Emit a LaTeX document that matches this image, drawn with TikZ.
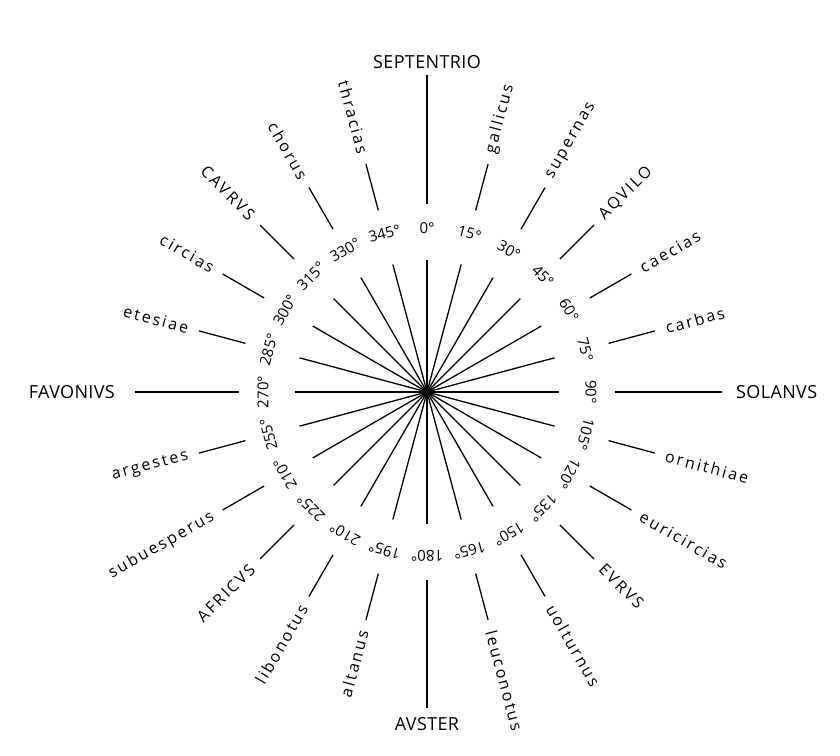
\documentclass[tikz,border=0pt]{standalone}
\usepackage{fontspec}
\newfontfamily\degfont{Open Sans}
\newfontfamily\windfont[LetterSpace=14]{Open Sans}
\newfontfamily\mainwindfont[LetterSpace=2]{Open Sans}

\tikzset{
  spoke/.style={line width=1.3pt},
  deglabel/.style={font=\degfont\fontsize{15}{15}\selectfont, inner sep=0pt},
  windname/.style={font=\windfont\fontsize{16}{16}\selectfont, inner sep=0pt},
  mainwind/.style={font=\mainwindfont\fontsize{18}{18}\selectfont, inner sep=0pt}
}

\begin{document}
\begin{tikzpicture}[x=1pt,y=1pt]
\useasboundingbox (0,0) rectangle (840,755);
\coordinate (O) at (427,363);
% star of inner spokes
\foreach \c in {0,15,...,345}
  \draw[spoke] (O) -- ([shift={(90-\c:132)}]O);
\fill (O) circle (3.5);
% degree marks
\foreach \c/\t in {0/0,15/15,30/30,45/45,60/60,75/75,90/90,105/105,120/120,
  135/135,150/150,165/165,180/180,195/195,210/210,225/225,240/210,255/255,
  270/270,285/285,300/300,315/315,330/330,345/345}
  \node[deglabel, rotate=-\c] (d\c) at ([shift={(90-\c:164)}]O) {\t°};
% east side winds
\foreach \c/\n in {15/gallicus,30/supernas,45/AQVILO,60/caecias,75/carbas,
  105/ornithiae,120/euricircias,135/EVRVS,150/uolturnus,165/leuconotus}{
  \coordinate (a\c) at ([shift={(90-\c:188)}]O);
  \coordinate (b\c) at ([shift={(90-\c:236)}]O);
  \draw[spoke] (a\c) -- (b\c);
  \node[windname, anchor=west, rotate=90-\c] (w\c) at ([shift={(90-\c:247)}]O) {\n};
}
% west side winds
\foreach \c/\n in {195/altanus,210/libonotus,225/AFRICVS,240/subuesperus,
  255/argestes,285/etesiae,300/circias,315/CAVRVS,330/chorus,345/thracias}{
  \coordinate (a\c) at ([shift={(90-\c:188)}]O);
  \coordinate (b\c) at ([shift={(90-\c:236)}]O);
  \draw[spoke] (a\c) -- (b\c);
  \node[windname, anchor=east, rotate=270-\c] (w\c) at ([shift={(90-\c:247)}]O) {\n};
}
% the four cardinal winds
\coordinate (aN) at ([shift={(90:188)}]O);
\coordinate (bN) at ([shift={(90:317)}]O);
\coordinate (aS) at ([shift={(-90:188)}]O);
\coordinate (bS) at ([shift={(-90:316)}]O);
\coordinate (aE) at ([shift={(0:188)}]O);
\coordinate (bE) at ([shift={(0:295)}]O);
\coordinate (aW) at ([shift={(180:188)}]O);
\coordinate (bW) at ([shift={(180:292)}]O);
\draw[spoke] (aN) -- (bN);
\draw[spoke] (aS) -- (bS);
\draw[spoke] (aE) -- (bE);
\draw[spoke] (aW) -- (bW);
\node[mainwind, anchor=south] (sept) at ([yshift=6]bN) {SEPTENTRIO};
\node[mainwind, anchor=north] (aust) at ([yshift=-9]bS) {AVSTER};
\node[mainwind, anchor=west] (sol) at ([xshift=14]bE) {SOLANVS};
\node[mainwind, anchor=east] (fav) at ([xshift=-20]bW) {FAVONIVS};
\end{tikzpicture}
\end{document}
